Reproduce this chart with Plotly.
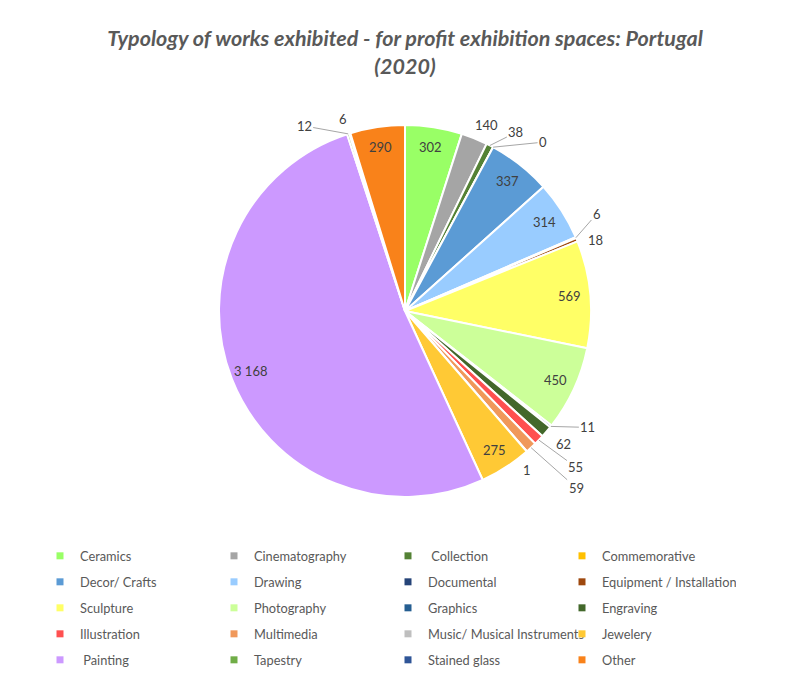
import math
import plotly.graph_objects as go

# Work typologies, in legend order
categories = [
    "Ceramics", "Cinematography", " Collection", "Commemorative",
    "Decor/ Crafts", "Drawing", "Documental", "Equipment / Installation",
    "Sculpture", "Photography", "Graphics", "Engraving",
    "Illustration", "Multimedia", "Music/ Musical Instruments", "Jewelery",
    " Painting", "Tapestry", "Stained glass", "Other",
]
works = [
    302, 140, 38, 0,
    337, 314, 6, 18,
    569, 450, 11, 62,
    55, 59, 1, 275,
    3168, 12, 6, 290,
]
colors = [
    "#99FF66", "#A5A5A5", "#548235", "#FFC000",
    "#5B9BD5", "#99CCFF", "#264478", "#9E480E",
    "#FFFF66", "#CCFF99", "#255E91", "#43682B",
    "#FF5050", "#F0985A", "#BFBFBF", "#FFC935",
    "#CC99FF", "#70AD47", "#2F5597", "#F9821A",
]

# Placement of the value labels of the thin slices, offset in pixels from
# the slice's outer edge, and whether a leader line is drawn.
outer_labels = {
    "Cinematography": (12, -13, False),
    " Collection": (26, -13, True),
    "Commemorative": (50, -5, True),
    "Documental": (21, -24, True),
    "Equipment / Installation": (19, 0, False),
    "Graphics": (37, 1, True),
    "Engraving": (17, 12, False),
    "Illustration": (37, 27, True),
    "Multimedia": (45, 40, True),
    "Music/ Musical Instruments": (0, 18, False),
    "Tapestry": (-44, -8, True),
    "Stained glass": (-7, -14, False),
}

W, H = 786, 675
FONT = "Lato, 'Open Sans', sans-serif"
TXT = "#595959"
LBL = "#404040"

# Pie placement (pixels)
CX, CY, R = 405, 311, 186
dom_x = [(CX - R) / W, (CX + R) / W]
dom_y = [1 - (CY + R) / H, 1 - (CY - R) / H]

fig = go.Figure()
fig.add_trace(go.Pie(
    labels=categories,
    values=works,
    sort=False,
    direction="clockwise",
    rotation=0,
    marker=dict(colors=colors, line=dict(color="white", width=2)),
    textinfo="none",
    domain=dict(x=dom_x, y=dom_y),
    showlegend=False,
    hoverinfo="label+value+percent",
))


def fmt(v):
    return f"{v:,}".replace(",", " ")


# Value labels, placed at each slice's mid angle
total = sum(works)
cum = 0
annotations = []
for name, v in zip(categories, works):
    mid = (cum + v / 2) / total * 2 * math.pi
    cum += v
    s, c = math.sin(mid), math.cos(mid)
    if name in outer_labels:
        dx, dy, line = outer_labels[name]
        px, py = CX + R * s, CY - R * c
        annotations.append(dict(
            x=px / W, y=1 - py / H, xref="paper", yref="paper",
            text=fmt(v), showarrow=True, ax=dx, ay=dy,
            arrowhead=0, arrowwidth=1, standoff=0,
            arrowcolor="#A6A6A6" if line else "rgba(0,0,0,0)",
            font=dict(family=FONT, size=13, color=LBL),
        ))
    else:
        f = 0.89
        px, py = CX + f * R * s, CY - f * R * c
        annotations.append(dict(
            x=px / W, y=1 - py / H, xref="paper", yref="paper",
            text=fmt(v), showarrow=False,
            xanchor="center", yanchor="middle",
            font=dict(family=FONT, size=13, color=LBL),
        ))

# Legend: four entries per row, one legend per row
legend_ids = ["legend", "legend2", "legend3", "legend4", "legend5"]
for i, (name, col) in enumerate(zip(categories, colors)):
    fig.add_trace(go.Scatter(
        x=[None], y=[None], mode="markers", name=name,
        marker=dict(symbol="square", size=7, color=col),
        hoverinfo="skip", legend=legend_ids[i // 4],
    ))

row_y = [556, 582, 608, 634, 660]
legend_layout = {}
for lid, yy in zip(legend_ids, row_y):
    legend_layout[lid] = dict(
        orientation="h",
        x=40 / W, xanchor="left",
        y=1 - yy / H, yanchor="middle",
        entrywidth=129, entrywidthmode="pixels",
        font=dict(family=FONT, size=12.8, color=TXT),
        bgcolor="rgba(0,0,0,0)",
    )

fig.update_layout(
    width=W, height=H,
    margin=dict(l=0, r=0, t=0, b=0),
    paper_bgcolor="white", plot_bgcolor="white",
    font=dict(family=FONT, color=TXT),
    title=dict(
        text="Typology of works exhibited - for profit exhibition spaces: Portugal<br>(2020)",
        x=405 / W, xanchor="center", xref="container",
        y=1 - 46 / H, yanchor="top", yref="container",
        font=dict(family=FONT, size=21.5, color=TXT, weight="bold", style="italic"),
    ),
    xaxis=dict(visible=False),
    yaxis=dict(visible=False),
    annotations=annotations,
    **legend_layout,
)

fig.write_html("out.html")
